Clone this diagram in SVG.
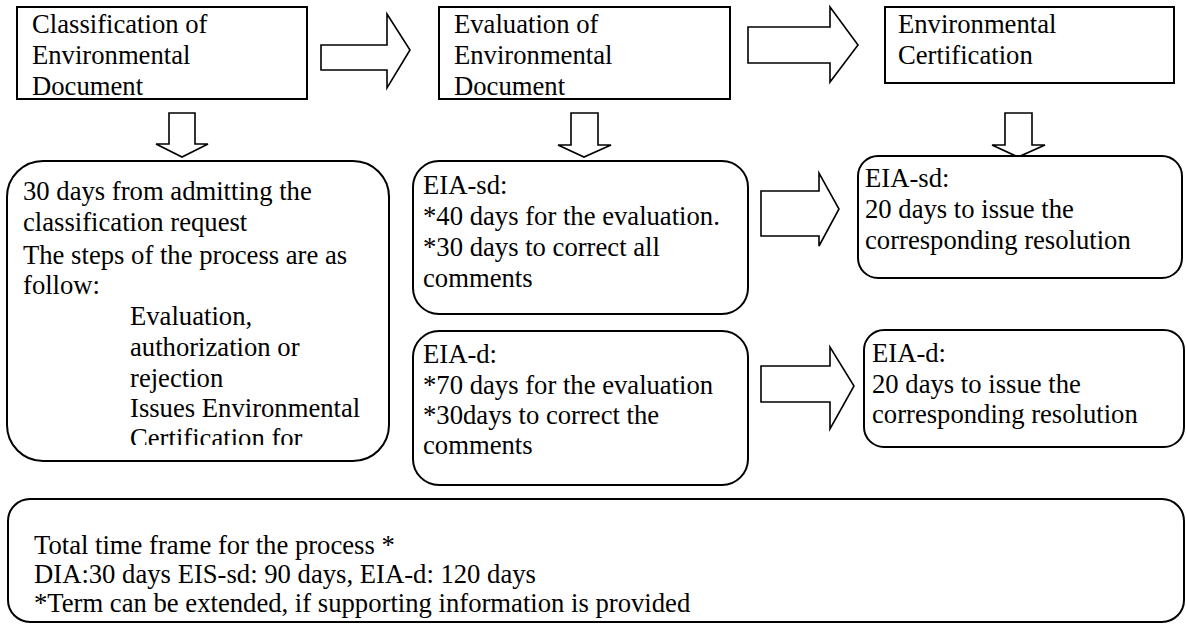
<svg xmlns="http://www.w3.org/2000/svg" width="1186" height="626" viewBox="0 0 1186 626">
  <style>
    .box { fill: #ffffff; stroke: #000000; stroke-width: 2; }
    .arrow { fill: #ffffff; stroke: #000000; stroke-width: 1.6; stroke-linejoin: miter; }
    text { font-family: "Liberation Serif", "Times New Roman", serif; font-size: 26.67px; fill: #000000; }
  </style>
  <defs>
    <clipPath id="clip-classification-steps">
      <rect x="8" y="162" width="380" height="283"/>
    </clipPath>
  </defs>
  <rect width="1186" height="626" fill="#ffffff"/>

  <!-- block arrows between the stages -->
  <g id="connectors">
    <polygon class="arrow" points="321,45 387,45 387,14 410,50 387,88 387,70 321,70"/>
    <polygon class="arrow" points="748,27 830,27 830,7 858,45 830,82 830,63 748,63"/>
    <polygon class="arrow" points="169,113 195,113 195,144 208,144 182,157 156,144 169,144"/>
    <polygon class="arrow" points="571,113 598,113 598,145 611,145 584,157 558,145 571,145"/>
    <polygon class="arrow" points="1005,113 1032,113 1032,145 1045,145 1018,157 992,145 1005,145"/>
    <polygon class="arrow" points="761,191 819,191 819,173 839,209 819,246 819,236 761,236"/>
    <polygon class="arrow" points="761,366 830,366 830,347 854,386 830,429 830,402 761,402"/>
  </g>

  <!-- stage headers -->
  <g id="classification">
    <rect class="box" x="17" y="7" width="290" height="92"/>
    <text x="32" y="33">Classification of</text>
    <text x="32" y="64">Environmental</text>
    <text x="32" y="95">Document</text>
  </g>
  <g id="evaluation">
    <rect class="box" x="439" y="7" width="291" height="92"/>
    <text x="454" y="33">Evaluation of</text>
    <text x="454" y="64">Environmental</text>
    <text x="454" y="95">Document</text>
  </g>
  <g id="certification">
    <rect class="box" x="885" y="7" width="289" height="76"/>
    <text x="898" y="33">Environmental</text>
    <text x="898" y="64">Certification</text>
  </g>

  <!-- classification details -->
  <g id="classification-steps">
    <rect class="box" x="7" y="161" width="382" height="300" rx="36" ry="36"/>
    <g clip-path="url(#clip-classification-steps)">
      <text x="23" y="200">30 days from admitting the</text>
      <text x="23" y="231">classification request</text>
      <text x="23" y="264">The steps of the process are as</text>
      <text x="23" y="294">follow:</text>
      <text x="130" y="325">Evaluation,</text>
      <text x="130" y="356">authorization or</text>
      <text x="130" y="387">rejection</text>
      <text x="130" y="417">Issues Environmental</text>
      <text x="130" y="447">Certification for</text>
    </g>
  </g>

  <!-- evaluation terms -->
  <g id="evaluation-sd">
    <rect class="box" x="413" y="161" width="335" height="153" rx="26" ry="26"/>
    <text x="423" y="194">EIA-sd:</text>
    <text x="423" y="225">*40 days for the evaluation.</text>
    <text x="423" y="256">*30 days to correct all</text>
    <text x="423" y="287">comments</text>
  </g>
  <g id="evaluation-d">
    <rect class="box" x="413" y="331" width="335" height="154" rx="26" ry="26"/>
    <text x="423" y="363">EIA-d:</text>
    <text x="423" y="394">*70 days for the evaluation</text>
    <text x="423" y="424">*30days to correct the</text>
    <text x="423" y="454">comments</text>
  </g>

  <!-- certification terms -->
  <g id="certification-sd">
    <rect class="box" x="858" y="156" width="324" height="122" rx="20" ry="20"/>
    <text x="865" y="187">EIA-sd:</text>
    <text x="865" y="218">20 days to issue the</text>
    <text x="865" y="249">corresponding resolution</text>
  </g>
  <g id="certification-d">
    <rect class="box" x="864" y="330" width="320" height="117" rx="20" ry="20"/>
    <text x="872" y="362">EIA-d:</text>
    <text x="872" y="393">20 days to issue the</text>
    <text x="872" y="423">corresponding resolution</text>
  </g>

  <!-- overall time frame -->
  <g id="total-time">
    <rect class="box" x="8" y="499" width="1176" height="123" rx="22" ry="22"/>
    <text x="34" y="554">Total time frame for the process *</text>
    <text x="34" y="583">DIA:30 days EIS-sd: 90 days, EIA-d: 120 days</text>
    <text x="34" y="612">*Term can be extended, if supporting information is provided</text>
  </g>
</svg>
